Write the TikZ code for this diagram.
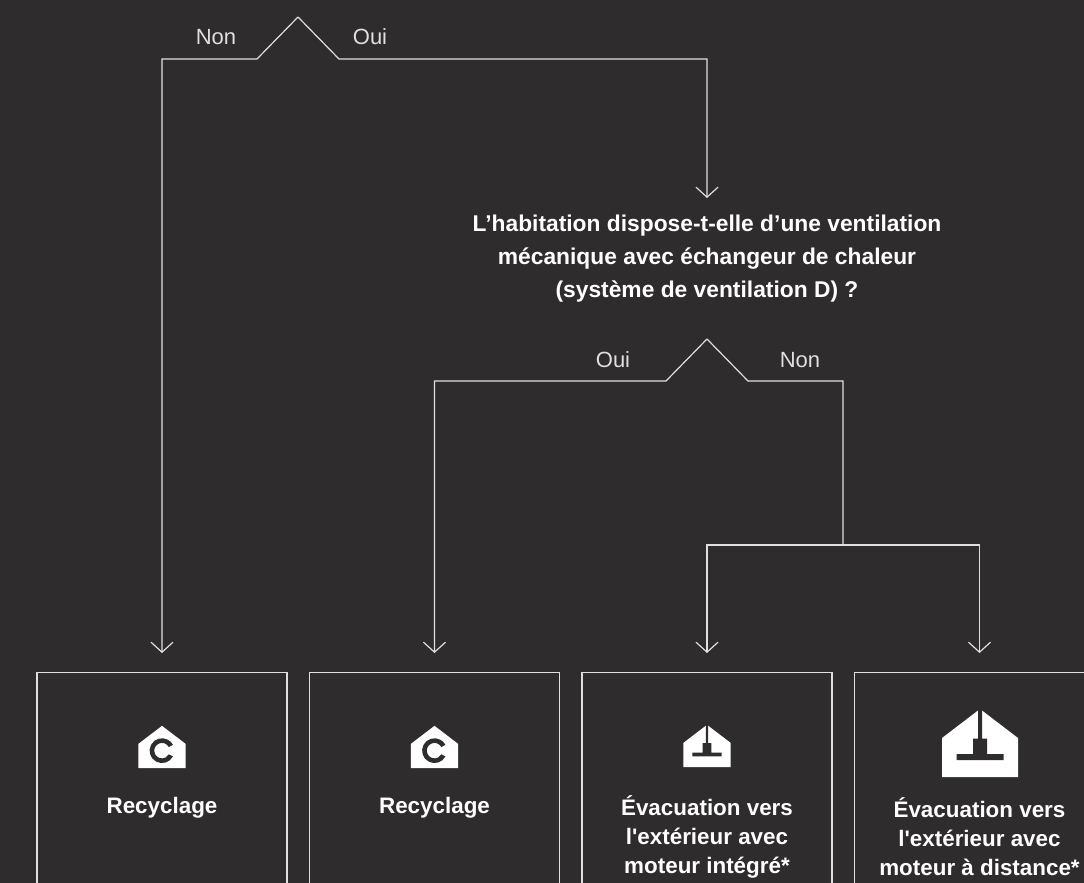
\documentclass[tikz,border=0pt]{standalone}
\usepackage{fontspec}
\setmainfont{Liberation Sans}[Ligatures=TeXOff]
\usetikzlibrary{arrows.meta,calc}
\definecolor{bg}{RGB}{46,44,45}
\definecolor{ln}{RGB}{224,224,224}
\newcommand\myhouse{\fill[white] (-38,0) -- (-38,-39) -- (0,-68) -- (38,-39) -- (38,0) -- cycle;}
\newcommand\myexhaust{\fill[bg] (-2,-72) rectangle (2,-38) (-7,-38.5) rectangle (7,-22) (-23.5,-23) rectangle (23.5,-17);}
\newcommand\myrecycle{\fill[bg] (0,-28) ++(28:20) arc[start angle=28,end angle=332,radius=20] -- ++(152:7.5) arc[start angle=332,end angle=28,radius=12.5] -- cycle;}
\begin{document}
\begin{tikzpicture}[x=1pt,y=-1pt,
  conn/.style={draw=ln, line width=1.2pt},
  arr/.style={conn, -{Straight Barb[length=10pt,width=22pt,line width=1.2pt]}},
  answer/.style={text=ln, font=\fontsize{22}{26}\selectfont, inner sep=0pt},
  question/.style={text=white, font=\bfseries\fontsize{22.8}{33}\selectfont, align=center, inner sep=0pt},
  resultbox/.style={draw=ln, line width=1.3pt, minimum width=250pt, minimum height=260pt, inner sep=0pt, anchor=north},
  restext/.style={text=white, font=\bfseries\fontsize{22.4}{29}\selectfont, align=center, inner sep=0pt},
]
\fill[bg] (0,0) rectangle (1084,883);
\useasboundingbox (0,0) rectangle (1084,883);
\clip (0,0) rectangle (1084,883);

% first decision
\coordinate (p1) at (298,17);
\node[answer] (non1) at (216,37) {Non};
\node[answer] (oui1) at (370,37) {Oui};

% question
\node[question] (q) at (707,259) {L’habitation dispose-t-elle d’une ventilation\\mécanique avec échangeur de chaleur\\(système de ventilation D) ?};
\coordinate (a0) at (707,198);

% second decision
\coordinate (p2) at (707,339);
\node[answer] (oui2) at (613,360) {Oui};
\node[answer] (non2) at (800,360) {Non};
\coordinate (j) at (843,545);

% result boxes
\node[resultbox] (b1) at (162,672) {};
\node[resultbox] (b2) at (434.5,672) {};
\node[resultbox] (b3) at (707,672) {};
\node[resultbox] (b4) at (979.5,672) {};
\coordinate (a1) at ($(b1.north)+(0,-19)$);
\coordinate (a2) at ($(b2.north)+(0,-19)$);
\coordinate (a3) at ($(b3.north)+(0,-19)$);
\coordinate (a4) at ($(b4.north)+(0,-19)$);

% connectors
\draw[arr] (p1) -- (257,59) -| (a1);
\draw[arr] (p1) -- (339,59) -| (a0);
\draw[arr] (p2) -- (666,381) -| (a2);
\draw[conn] (p2) -- (748,381) -| (j);
\draw[arr] (j) -| (a3);
\draw[arr] (j) -| (a4);

% icons
\begin{scope}[shift={(162,768)}, scale=0.62]\myhouse\myrecycle\end{scope}
\begin{scope}[shift={(434.5,768)}, scale=0.62]\myhouse\myrecycle\end{scope}
\begin{scope}[shift={(707,767)}, scale=0.62]\myhouse\myexhaust\end{scope}
\begin{scope}[shift={(980,777)}]\myhouse\myexhaust\end{scope}

% result texts
\node[restext] (t1) at (162,808) {Recyclage};
\node[restext] (t2) at (434.5,808) {Recyclage};
\node[restext] (t3) at (707,837) {Évacuation vers\\l'extérieur avec\\moteur intégré*};
\node[restext] (t4) at (979.5,837) {Évacuation vers\\l'extérieur avec\\moteur à distance*};
\end{tikzpicture}
\end{document}
